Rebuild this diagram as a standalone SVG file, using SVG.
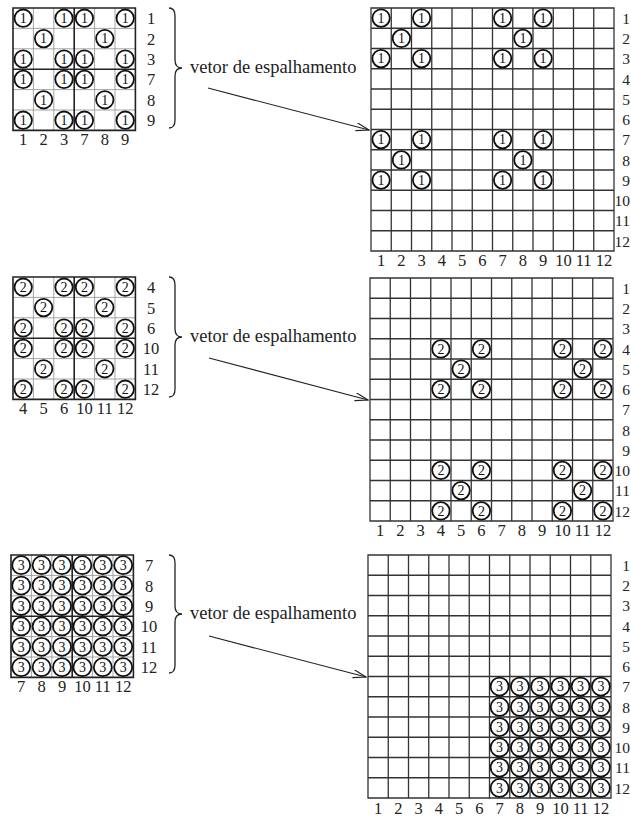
<svg xmlns="http://www.w3.org/2000/svg" width="631" height="818" viewBox="0 0 631 818">
<style>
.thin{fill:none;stroke:#9a9a9a;stroke-width:0.9}
.thick{fill:none;stroke:#222;stroke-width:1.6}
.big{fill:none;stroke:#333;stroke-width:1.3}
.c circle{fill:none;stroke:#111;stroke-width:1.8}
.ct{font-family:"Liberation Serif",serif;font-size:14px;text-anchor:middle;fill:#111}
.lbl{font-family:"Liberation Serif",serif;font-size:16.5px;text-anchor:middle;fill:#222}
.rl{font-family:"Liberation Serif",serif;font-size:15.5px;text-anchor:end;fill:#222}
.cap{font-family:"Liberation Serif",serif;font-size:18.5px;fill:#222}
.brace{fill:none;stroke:#222;stroke-width:1.3}
.arr{fill:none;stroke:#222;stroke-width:1.2}
</style>
<defs>
<marker id="ah" markerWidth="14" markerHeight="10" refX="13" refY="4" orient="auto" markerUnits="userSpaceOnUse">
<path d="M0,0 L13,4 L0,8" fill="none" stroke="#222" stroke-width="1.2"/>
</marker>
</defs>

<!-- ===== TOP SMALL GRID ===== -->
<g id="small1" transform="translate(13,8)">
<path class="thin" d="M20.4,0V122.4M40.8,0V122.4M81.6,0V122.4M102,0V122.4M0,20.4H122.4M0,40.8H122.4M0,81.6H122.4M0,102H122.4"/>
<path class="thick" d="M0,0H122.4V122.4H0Z M61.2,0V122.4M0,61.2H122.4"/>
<g class="c">
<circle cx="10.2" cy="10.2" r="8.7"/><circle cx="51" cy="10.2" r="8.7"/><circle cx="71.4" cy="10.2" r="8.7"/><circle cx="112.2" cy="10.2" r="8.7"/>
<circle cx="30.6" cy="30.6" r="8.7"/><circle cx="91.8" cy="30.6" r="8.7"/>
<circle cx="10.2" cy="51" r="8.7"/><circle cx="51" cy="51" r="8.7"/><circle cx="71.4" cy="51" r="8.7"/><circle cx="112.2" cy="51" r="8.7"/>
<circle cx="10.2" cy="71.4" r="8.7"/><circle cx="51" cy="71.4" r="8.7"/><circle cx="71.4" cy="71.4" r="8.7"/><circle cx="112.2" cy="71.4" r="8.7"/>
<circle cx="30.6" cy="91.8" r="8.7"/><circle cx="91.8" cy="91.8" r="8.7"/>
<circle cx="10.2" cy="112.2" r="8.7"/><circle cx="51" cy="112.2" r="8.7"/><circle cx="71.4" cy="112.2" r="8.7"/><circle cx="112.2" cy="112.2" r="8.7"/>
</g>
<g class="ct">
<text x="10.2" y="14.9">1</text><text x="51" y="14.9">1</text><text x="71.4" y="14.9">1</text><text x="112.2" y="14.9">1</text>
<text x="30.6" y="35.3">1</text><text x="91.8" y="35.3">1</text>
<text x="10.2" y="55.7">1</text><text x="51" y="55.7">1</text><text x="71.4" y="55.7">1</text><text x="112.2" y="55.7">1</text>
<text x="10.2" y="76.1">1</text><text x="51" y="76.1">1</text><text x="71.4" y="76.1">1</text><text x="112.2" y="76.1">1</text>
<text x="30.6" y="96.5">1</text><text x="91.8" y="96.5">1</text>
<text x="10.2" y="116.9">1</text><text x="51" y="116.9">1</text><text x="71.4" y="116.9">1</text><text x="112.2" y="116.9">1</text>
</g>
<g class="lbl">
<text x="138" y="16.2">1</text><text x="138" y="36.6">2</text><text x="138" y="57">3</text><text x="138" y="77.4">7</text><text x="138" y="97.8">8</text><text x="138" y="118.2">9</text>
<text x="10.2" y="137">1</text><text x="30.6" y="137">2</text><text x="51" y="137">3</text><text x="71.4" y="137">7</text><text x="91.8" y="137">8</text><text x="112.2" y="137">9</text>
</g>
</g>

<!-- ===== MIDDLE SMALL GRID ===== -->
<g id="small2" transform="translate(13,277)">
<path class="thin" d="M20.4,0V122.4M40.8,0V122.4M81.6,0V122.4M102,0V122.4M0,20.4H122.4M0,40.8H122.4M0,81.6H122.4M0,102H122.4"/>
<path class="thick" d="M0,0H122.4V122.4H0Z M61.2,0V122.4M0,61.2H122.4"/>
<g class="c">
<circle cx="10.2" cy="10.2" r="8.7"/><circle cx="51" cy="10.2" r="8.7"/><circle cx="71.4" cy="10.2" r="8.7"/><circle cx="112.2" cy="10.2" r="8.7"/>
<circle cx="30.6" cy="30.6" r="8.7"/><circle cx="91.8" cy="30.6" r="8.7"/>
<circle cx="10.2" cy="51" r="8.7"/><circle cx="51" cy="51" r="8.7"/><circle cx="71.4" cy="51" r="8.7"/><circle cx="112.2" cy="51" r="8.7"/>
<circle cx="10.2" cy="71.4" r="8.7"/><circle cx="51" cy="71.4" r="8.7"/><circle cx="71.4" cy="71.4" r="8.7"/><circle cx="112.2" cy="71.4" r="8.7"/>
<circle cx="30.6" cy="91.8" r="8.7"/><circle cx="91.8" cy="91.8" r="8.7"/>
<circle cx="10.2" cy="112.2" r="8.7"/><circle cx="51" cy="112.2" r="8.7"/><circle cx="71.4" cy="112.2" r="8.7"/><circle cx="112.2" cy="112.2" r="8.7"/>
</g>
<g class="ct">
<text x="10.2" y="14.9">2</text><text x="51" y="14.9">2</text><text x="71.4" y="14.9">2</text><text x="112.2" y="14.9">2</text>
<text x="30.6" y="35.3">2</text><text x="91.8" y="35.3">2</text>
<text x="10.2" y="55.7">2</text><text x="51" y="55.7">2</text><text x="71.4" y="55.7">2</text><text x="112.2" y="55.7">2</text>
<text x="10.2" y="76.1">2</text><text x="51" y="76.1">2</text><text x="71.4" y="76.1">2</text><text x="112.2" y="76.1">2</text>
<text x="30.6" y="96.5">2</text><text x="91.8" y="96.5">2</text>
<text x="10.2" y="116.9">2</text><text x="51" y="116.9">2</text><text x="71.4" y="116.9">2</text><text x="112.2" y="116.9">2</text>
</g>
<g class="lbl">
<text x="138" y="16.2">4</text><text x="138" y="36.6">5</text><text x="138" y="57">6</text><text x="138" y="77.4">10</text><text x="138" y="97.8">11</text><text x="138" y="118.2">12</text>
<text x="10.2" y="137">4</text><text x="30.6" y="137">5</text><text x="51" y="137">6</text><text x="71.4" y="137">10</text><text x="91.8" y="137">11</text><text x="112.2" y="137">12</text>
</g>
</g>

<!-- ===== BOTTOM SMALL GRID ===== -->
<g id="small3" transform="translate(11,555)">
<path class="thin" d="M20.4,0V122.4M40.8,0V122.4M81.6,0V122.4M102,0V122.4M0,20.4H122.4M0,40.8H122.4M0,81.6H122.4M0,102H122.4"/>
<path class="thick" d="M0,0H122.4V122.4H0Z M61.2,0V122.4M0,61.2H122.4"/>
<g class="c">
<circle cx="10.2" cy="10.2" r="9"/><circle cx="30.6" cy="10.2" r="9"/><circle cx="51" cy="10.2" r="9"/><circle cx="71.4" cy="10.2" r="9"/><circle cx="91.8" cy="10.2" r="9"/><circle cx="112.2" cy="10.2" r="9"/>
<circle cx="10.2" cy="30.6" r="9"/><circle cx="30.6" cy="30.6" r="9"/><circle cx="51" cy="30.6" r="9"/><circle cx="71.4" cy="30.6" r="9"/><circle cx="91.8" cy="30.6" r="9"/><circle cx="112.2" cy="30.6" r="9"/>
<circle cx="10.2" cy="51" r="9"/><circle cx="30.6" cy="51" r="9"/><circle cx="51" cy="51" r="9"/><circle cx="71.4" cy="51" r="9"/><circle cx="91.8" cy="51" r="9"/><circle cx="112.2" cy="51" r="9"/>
<circle cx="10.2" cy="71.4" r="9"/><circle cx="30.6" cy="71.4" r="9"/><circle cx="51" cy="71.4" r="9"/><circle cx="71.4" cy="71.4" r="9"/><circle cx="91.8" cy="71.4" r="9"/><circle cx="112.2" cy="71.4" r="9"/>
<circle cx="10.2" cy="91.8" r="9"/><circle cx="30.6" cy="91.8" r="9"/><circle cx="51" cy="91.8" r="9"/><circle cx="71.4" cy="91.8" r="9"/><circle cx="91.8" cy="91.8" r="9"/><circle cx="112.2" cy="91.8" r="9"/>
<circle cx="10.2" cy="112.2" r="9"/><circle cx="30.6" cy="112.2" r="9"/><circle cx="51" cy="112.2" r="9"/><circle cx="71.4" cy="112.2" r="9"/><circle cx="91.8" cy="112.2" r="9"/><circle cx="112.2" cy="112.2" r="9"/>
</g>
<g class="ct">
<text x="10.2" y="14.9">3</text><text x="30.6" y="14.9">3</text><text x="51" y="14.9">3</text><text x="71.4" y="14.9">3</text><text x="91.8" y="14.9">3</text><text x="112.2" y="14.9">3</text>
<text x="10.2" y="35.3">3</text><text x="30.6" y="35.3">3</text><text x="51" y="35.3">3</text><text x="71.4" y="35.3">3</text><text x="91.8" y="35.3">3</text><text x="112.2" y="35.3">3</text>
<text x="10.2" y="55.7">3</text><text x="30.6" y="55.7">3</text><text x="51" y="55.7">3</text><text x="71.4" y="55.7">3</text><text x="91.8" y="55.7">3</text><text x="112.2" y="55.7">3</text>
<text x="10.2" y="76.1">3</text><text x="30.6" y="76.1">3</text><text x="51" y="76.1">3</text><text x="71.4" y="76.1">3</text><text x="91.8" y="76.1">3</text><text x="112.2" y="76.1">3</text>
<text x="10.2" y="96.5">3</text><text x="30.6" y="96.5">3</text><text x="51" y="96.5">3</text><text x="71.4" y="96.5">3</text><text x="91.8" y="96.5">3</text><text x="112.2" y="96.5">3</text>
<text x="10.2" y="116.9">3</text><text x="30.6" y="116.9">3</text><text x="51" y="116.9">3</text><text x="71.4" y="116.9">3</text><text x="91.8" y="116.9">3</text><text x="112.2" y="116.9">3</text>
</g>
<g class="lbl">
<text x="138" y="16.2">7</text><text x="138" y="36.6">8</text><text x="138" y="57">9</text><text x="138" y="77.4">10</text><text x="138" y="97.8">11</text><text x="138" y="118.2">12</text>
<text x="10.2" y="137">7</text><text x="30.6" y="137">8</text><text x="51" y="137">9</text><text x="71.4" y="137">10</text><text x="91.8" y="137">11</text><text x="112.2" y="137">12</text>
</g>
</g>

<!-- ===== BIG GRIDS ===== -->
<g id="big1" transform="translate(371,8)">
<path class="big" d="M0,0H243V243H0Z M20.25,0V243M40.5,0V243M60.75,0V243M81,0V243M101.25,0V243M121.5,0V243M141.75,0V243M162,0V243M182.25,0V243M202.5,0V243M222.75,0V243 M0,20.25H243M0,40.5H243M0,60.75H243M0,81H243M0,101.25H243M0,121.5H243M0,141.75H243M0,162H243M0,182.25H243M0,202.5H243M0,222.75H243"/>
<g class="c">
<circle cx="10.1" cy="10.1" r="8.7"/><circle cx="50.6" cy="10.1" r="8.7"/><circle cx="131.6" cy="10.1" r="8.7"/><circle cx="172.1" cy="10.1" r="8.7"/>
<circle cx="30.4" cy="30.4" r="8.7"/><circle cx="151.9" cy="30.4" r="8.7"/>
<circle cx="10.1" cy="50.6" r="8.7"/><circle cx="50.6" cy="50.6" r="8.7"/><circle cx="131.6" cy="50.6" r="8.7"/><circle cx="172.1" cy="50.6" r="8.7"/>
<circle cx="10.1" cy="131.6" r="8.7"/><circle cx="50.6" cy="131.6" r="8.7"/><circle cx="131.6" cy="131.6" r="8.7"/><circle cx="172.1" cy="131.6" r="8.7"/>
<circle cx="30.4" cy="151.9" r="8.7"/><circle cx="151.9" cy="151.9" r="8.7"/>
<circle cx="10.1" cy="172.1" r="8.7"/><circle cx="50.6" cy="172.1" r="8.7"/><circle cx="131.6" cy="172.1" r="8.7"/><circle cx="172.1" cy="172.1" r="8.7"/>
</g>
<g class="ct">
<text x="10.1" y="14.8">1</text><text x="50.6" y="14.8">1</text><text x="131.6" y="14.8">1</text><text x="172.1" y="14.8">1</text>
<text x="30.4" y="35.1">1</text><text x="151.9" y="35.1">1</text>
<text x="10.1" y="55.3">1</text><text x="50.6" y="55.3">1</text><text x="131.6" y="55.3">1</text><text x="172.1" y="55.3">1</text>
<text x="10.1" y="136.3">1</text><text x="50.6" y="136.3">1</text><text x="131.6" y="136.3">1</text><text x="172.1" y="136.3">1</text>
<text x="30.4" y="156.6">1</text><text x="151.9" y="156.6">1</text>
<text x="10.1" y="176.8">1</text><text x="50.6" y="176.8">1</text><text x="131.6" y="176.8">1</text><text x="172.1" y="176.8">1</text>
</g>
<g class="rl">
<text x="259" y="15.8">1</text><text x="259" y="36.1">2</text><text x="259" y="56.3">3</text><text x="259" y="76.6">4</text><text x="259" y="96.8">5</text><text x="259" y="117.1">6</text><text x="259" y="137.3">7</text><text x="259" y="157.6">8</text><text x="259" y="177.8">9</text><text x="259" y="198.1">10</text><text x="259" y="218.3">11</text><text x="259" y="238.6">12</text>
</g>
<g class="lbl">
<text x="10.1" y="258">1</text><text x="30.4" y="258">2</text><text x="50.6" y="258">3</text><text x="70.9" y="258">4</text><text x="91.1" y="258">5</text><text x="111.4" y="258">6</text><text x="131.6" y="258">7</text><text x="151.9" y="258">8</text><text x="172.1" y="258">9</text><text x="192.4" y="258">10</text><text x="212.6" y="258">11</text><text x="232.9" y="258">12</text>
</g>
</g>

<g id="big2" transform="translate(370,278)">
<path class="big" d="M0,0H243V243H0Z M20.25,0V243M40.5,0V243M60.75,0V243M81,0V243M101.25,0V243M121.5,0V243M141.75,0V243M162,0V243M182.25,0V243M202.5,0V243M222.75,0V243 M0,20.25H243M0,40.5H243M0,60.75H243M0,81H243M0,101.25H243M0,121.5H243M0,141.75H243M0,162H243M0,182.25H243M0,202.5H243M0,222.75H243"/>
<g class="c">
<circle cx="70.9" cy="70.9" r="8.7"/><circle cx="111.4" cy="70.9" r="8.7"/><circle cx="192.4" cy="70.9" r="8.7"/><circle cx="232.9" cy="70.9" r="8.7"/>
<circle cx="91.1" cy="91.1" r="8.7"/><circle cx="212.6" cy="91.1" r="8.7"/>
<circle cx="70.9" cy="111.4" r="8.7"/><circle cx="111.4" cy="111.4" r="8.7"/><circle cx="192.4" cy="111.4" r="8.7"/><circle cx="232.9" cy="111.4" r="8.7"/>
<circle cx="70.9" cy="192.4" r="8.7"/><circle cx="111.4" cy="192.4" r="8.7"/><circle cx="192.4" cy="192.4" r="8.7"/><circle cx="232.9" cy="192.4" r="8.7"/>
<circle cx="91.1" cy="212.6" r="8.7"/><circle cx="212.6" cy="212.6" r="8.7"/>
<circle cx="70.9" cy="232.9" r="8.7"/><circle cx="111.4" cy="232.9" r="8.7"/><circle cx="192.4" cy="232.9" r="8.7"/><circle cx="232.9" cy="232.9" r="8.7"/>
</g>
<g class="ct">
<text x="70.9" y="75.6">2</text><text x="111.4" y="75.6">2</text><text x="192.4" y="75.6">2</text><text x="232.9" y="75.6">2</text>
<text x="91.1" y="95.8">2</text><text x="212.6" y="95.8">2</text>
<text x="70.9" y="116.1">2</text><text x="111.4" y="116.1">2</text><text x="192.4" y="116.1">2</text><text x="232.9" y="116.1">2</text>
<text x="70.9" y="197.1">2</text><text x="111.4" y="197.1">2</text><text x="192.4" y="197.1">2</text><text x="232.9" y="197.1">2</text>
<text x="91.1" y="217.3">2</text><text x="212.6" y="217.3">2</text>
<text x="70.9" y="237.6">2</text><text x="111.4" y="237.6">2</text><text x="192.4" y="237.6">2</text><text x="232.9" y="237.6">2</text>
</g>
<g class="rl">
<text x="260" y="15.8">1</text><text x="260" y="36.1">2</text><text x="260" y="56.3">3</text><text x="260" y="76.6">4</text><text x="260" y="96.8">5</text><text x="260" y="117.1">6</text><text x="260" y="137.3">7</text><text x="260" y="157.6">8</text><text x="260" y="177.8">9</text><text x="260" y="198.1">10</text><text x="260" y="218.3">11</text><text x="260" y="238.6">12</text>
</g>
<g class="lbl">
<text x="10.1" y="258">1</text><text x="30.4" y="258">2</text><text x="50.6" y="258">3</text><text x="70.9" y="258">4</text><text x="91.1" y="258">5</text><text x="111.4" y="258">6</text><text x="131.6" y="258">7</text><text x="151.9" y="258">8</text><text x="172.1" y="258">9</text><text x="192.4" y="258">10</text><text x="212.6" y="258">11</text><text x="232.9" y="258">12</text>
</g>
</g>

<g id="big3" transform="translate(368,555)">
<path class="big" d="M0,0H243V243H0Z M20.25,0V243M40.5,0V243M60.75,0V243M81,0V243M101.25,0V243M121.5,0V243M141.75,0V243M162,0V243M182.25,0V243M202.5,0V243M222.75,0V243 M0,20.25H243M0,40.5H243M0,60.75H243M0,81H243M0,101.25H243M0,121.5H243M0,141.75H243M0,162H243M0,182.25H243M0,202.5H243M0,222.75H243"/>
<g class="c">
<circle cx="131.6" cy="131.6" r="9"/><circle cx="151.9" cy="131.6" r="9"/><circle cx="172.1" cy="131.6" r="9"/><circle cx="192.4" cy="131.6" r="9"/><circle cx="212.6" cy="131.6" r="9"/><circle cx="232.9" cy="131.6" r="9"/>
<circle cx="131.6" cy="151.9" r="9"/><circle cx="151.9" cy="151.9" r="9"/><circle cx="172.1" cy="151.9" r="9"/><circle cx="192.4" cy="151.9" r="9"/><circle cx="212.6" cy="151.9" r="9"/><circle cx="232.9" cy="151.9" r="9"/>
<circle cx="131.6" cy="172.1" r="9"/><circle cx="151.9" cy="172.1" r="9"/><circle cx="172.1" cy="172.1" r="9"/><circle cx="192.4" cy="172.1" r="9"/><circle cx="212.6" cy="172.1" r="9"/><circle cx="232.9" cy="172.1" r="9"/>
<circle cx="131.6" cy="192.4" r="9"/><circle cx="151.9" cy="192.4" r="9"/><circle cx="172.1" cy="192.4" r="9"/><circle cx="192.4" cy="192.4" r="9"/><circle cx="212.6" cy="192.4" r="9"/><circle cx="232.9" cy="192.4" r="9"/>
<circle cx="131.6" cy="212.6" r="9"/><circle cx="151.9" cy="212.6" r="9"/><circle cx="172.1" cy="212.6" r="9"/><circle cx="192.4" cy="212.6" r="9"/><circle cx="212.6" cy="212.6" r="9"/><circle cx="232.9" cy="212.6" r="9"/>
<circle cx="131.6" cy="232.9" r="9"/><circle cx="151.9" cy="232.9" r="9"/><circle cx="172.1" cy="232.9" r="9"/><circle cx="192.4" cy="232.9" r="9"/><circle cx="212.6" cy="232.9" r="9"/><circle cx="232.9" cy="232.9" r="9"/>
</g>
<g class="ct">
<text x="131.6" y="136.3">3</text><text x="151.9" y="136.3">3</text><text x="172.1" y="136.3">3</text><text x="192.4" y="136.3">3</text><text x="212.6" y="136.3">3</text><text x="232.9" y="136.3">3</text>
<text x="131.6" y="156.6">3</text><text x="151.9" y="156.6">3</text><text x="172.1" y="156.6">3</text><text x="192.4" y="156.6">3</text><text x="212.6" y="156.6">3</text><text x="232.9" y="156.6">3</text>
<text x="131.6" y="176.8">3</text><text x="151.9" y="176.8">3</text><text x="172.1" y="176.8">3</text><text x="192.4" y="176.8">3</text><text x="212.6" y="176.8">3</text><text x="232.9" y="176.8">3</text>
<text x="131.6" y="197.1">3</text><text x="151.9" y="197.1">3</text><text x="172.1" y="197.1">3</text><text x="192.4" y="197.1">3</text><text x="212.6" y="197.1">3</text><text x="232.9" y="197.1">3</text>
<text x="131.6" y="217.3">3</text><text x="151.9" y="217.3">3</text><text x="172.1" y="217.3">3</text><text x="192.4" y="217.3">3</text><text x="212.6" y="217.3">3</text><text x="232.9" y="217.3">3</text>
<text x="131.6" y="237.6">3</text><text x="151.9" y="237.6">3</text><text x="172.1" y="237.6">3</text><text x="192.4" y="237.6">3</text><text x="212.6" y="237.6">3</text><text x="232.9" y="237.6">3</text>
</g>
<g class="rl">
<text x="262" y="15.8">1</text><text x="262" y="36.1">2</text><text x="262" y="56.3">3</text><text x="262" y="76.6">4</text><text x="262" y="96.8">5</text><text x="262" y="117.1">6</text><text x="262" y="137.3">7</text><text x="262" y="157.6">8</text><text x="262" y="177.8">9</text><text x="262" y="198.1">10</text><text x="262" y="218.3">11</text><text x="262" y="238.6">12</text>
</g>
<g class="lbl">
<text x="10.1" y="258.5">1</text><text x="30.4" y="258.5">2</text><text x="50.6" y="258.5">3</text><text x="70.9" y="258.5">4</text><text x="91.1" y="258.5">5</text><text x="111.4" y="258.5">6</text><text x="131.6" y="258.5">7</text><text x="151.9" y="258.5">8</text><text x="172.1" y="258.5">9</text><text x="192.4" y="258.5">10</text><text x="212.6" y="258.5">11</text><text x="232.9" y="258.5">12</text>
</g>
</g>

<!-- ===== BRACES AND CAPTIONS ===== -->
<g id="label1">
<path class="brace" d="M169,8 Q175,8 175,16 L175,60 Q175,68 182,68 Q175,68 175,76 L175,120 Q175,128 169,128"/>
<text class="cap" x="190" y="73">vetor de espalhamento</text>
</g>
<g id="label2">
<path class="brace" d="M169,277 Q175,277 175,285 L175,329 Q175,337 182,337 Q175,337 175,345 L175,389 Q175,397 169,397"/>
<text class="cap" x="190" y="342">vetor de espalhamento</text>
</g>
<g id="label3">
<path class="brace" d="M169,555 Q175,555 175,563 L175,606 Q175,614 182,614 Q175,614 175,622 L175,665 Q175,673 169,673"/>
<text class="cap" x="190" y="619">vetor de espalhamento</text>
</g>

<!-- ===== CONNECTORS ===== -->
<g id="connectors">
<line class="arr" x1="208" y1="88" x2="369" y2="130" marker-end="url(#ah)"/>
<line class="arr" x1="209" y1="358" x2="368" y2="400" marker-end="url(#ah)"/>
<line class="arr" x1="209" y1="636" x2="366" y2="677" marker-end="url(#ah)"/>
</g>
</svg>
